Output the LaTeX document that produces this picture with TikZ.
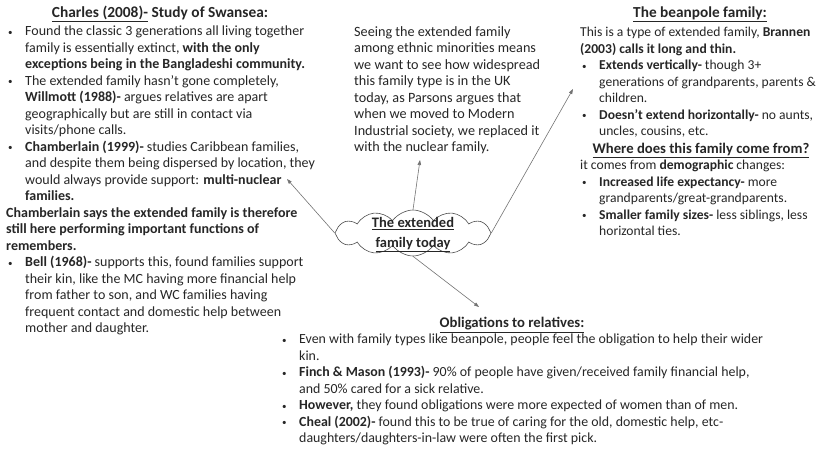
\documentclass[tikz,border=0pt]{standalone}
\usepackage{fontspec}
\setmainfont{Carlito}
\usetikzlibrary{shapes.symbols,arrows.meta}

\newcommand{\bul}{\makebox[19pt][l]{\hspace{2pt}\raisebox{0.5pt}{\fontsize{9}{9}\selectfont•}}}
\newcommand{\ind}{\hspace*{19pt}}

\begin{document}
\begin{tikzpicture}[x=1pt,y=-1pt,
  txt/.style={anchor=north west, align=left, inner sep=0pt, text=black!85,
    font=\fontsize{#1}{16.5}\selectfont},
  txt/.default=14,
  heading/.style={inner sep=0pt, text=black!85, font=\fontsize{#1}{17}\selectfont\bfseries},
  heading/.default=14.7,
  link/.style={draw=black!55, line width=0.6pt, -{Triangle[length=5pt,width=3.5pt]}}]
  \useasboundingbox (0,0) rectangle (828,466);

  % left: Charles / Chamberlain / Bell
  \node[heading=15.4] (charlesT) at (160,14) {\underline{Charles (2008)-} Study of Swansea:};
  \node[txt=14] (charles) at (6,26) {\bul Found the classic 3 generations all living together\\
    \ind family is essentially extinct, \textbf{with the only}\\
    \ind\textbf{exceptions being in the Bangladeshi community.}\\
    \bul The extended family hasn't gone completely,\\
    \ind\textbf{Willmott (1988)-} argues relatives are apart\\
    \ind geographically but are still in contact via\\
    \ind visits/phone calls.\\
    \bul\textbf{Chamberlain (1999)-} studies Caribbean families,\\
    \ind and despite them being dispersed by location, they\\
    \ind would always provide support: \textbf{multi-nuclear}\\
    \ind\textbf{families.}\\
    \textbf{Chamberlain says the extended family is therefore}\\
    \textbf{still here performing important functions of}\\
    \textbf{remembers.}\\
    \bul\textbf{Bell (1968)-} supports this, found families support\\
    \ind their kin, like the MC having more financial help\\
    \ind from father to son, and WC families having\\
    \ind frequent contact and domestic help between\\
    \ind mother and daughter.};

  % middle: Parsons
  \node[txt=14.2] (parsons) at (354,26) {Seeing the extended family\\
    among ethnic minorities means\\
    we want to see how widespread\\
    this family type is in the UK\\
    today, as Parsons argues that\\
    when we moved to Modern\\
    Industrial society, we replaced it\\
    with the nuclear family.};

  % right: beanpole family
  \node[heading=15.3] (beanT) at (700,14) {\underline{The beanpole family:}};
  \node[txt=13.6] (bean) at (580,27) {This is a type of extended family, \textbf{Brannen}\\
    \textbf{(2003) calls it long and thin.}\\
    \bul\textbf{Extends vertically-} though 3+\\
    \ind generations of grandparents, parents \&\\
    \ind children.\\
    \bul\textbf{Doesn't extend horizontally-} no aunts,\\
    \ind uncles, cousins, etc.};
  \node[heading] (whereT) at (701,150) {\underline{Where does this family come from?}};
  \node[txt=13.6] (where) at (580,160) {it comes from \textbf{demographic} changes:\\
    \bul\textbf{Increased life expectancy-} more\\
    \ind grandparents/great-grandparents.\\
    \bul\textbf{Smaller family sizes-} less siblings, less\\
    \ind horizontal ties.};

  % bottom: obligations
  \node[heading] (obligT) at (512,325) {\underline{Obligations to relatives:}};
  \node[txt=13.9] (oblig) at (280,334) {\bul Even with family types like beanpole, people feel the obligation to help their wider\\
    \ind kin.\\
    \bul\textbf{Finch \& Mason (1993)-} 90\% of people have given/received family financial help,\\
    \ind and 50\% cared for a sick relative.\\
    \bul\textbf{However,} they found obligations were more expected of women than of men.\\
    \bul\textbf{Cheal (2002)-} found this to be true of caring for the old, domestic help, etc-\\
    \ind daughters/daughters-in-law were often the first pick.};

  % centre cloud and links
  \node[cloud, cloud ignores aspect, draw=black!70, line width=0.6pt, cloud puffs=12, cloud puff arc=110,
    minimum width=156pt, minimum height=46pt, inner sep=0pt] (cloud) at (413,233) {};
  \node[align=center, inner sep=0pt, text=black!85,
    font=\fontsize{14.5}{20}\selectfont\bfseries] (cloudT) at (413,235)
    {\underline{The extended}\\\underline{family today}};
  \coordinate (toLeft) at (287,179);
  \coordinate (toMid) at (420,160);
  \coordinate (toRight) at (573,89);
  \coordinate (toBottom) at (479,307);
  \draw[link] (cloud.west) -- (toLeft);
  \draw[link] (cloud.north) -- (toMid);
  \draw[link] (cloud.east) -- (toRight);
  \draw[link] (cloud.south) -- (toBottom);
\end{tikzpicture}
\end{document}
